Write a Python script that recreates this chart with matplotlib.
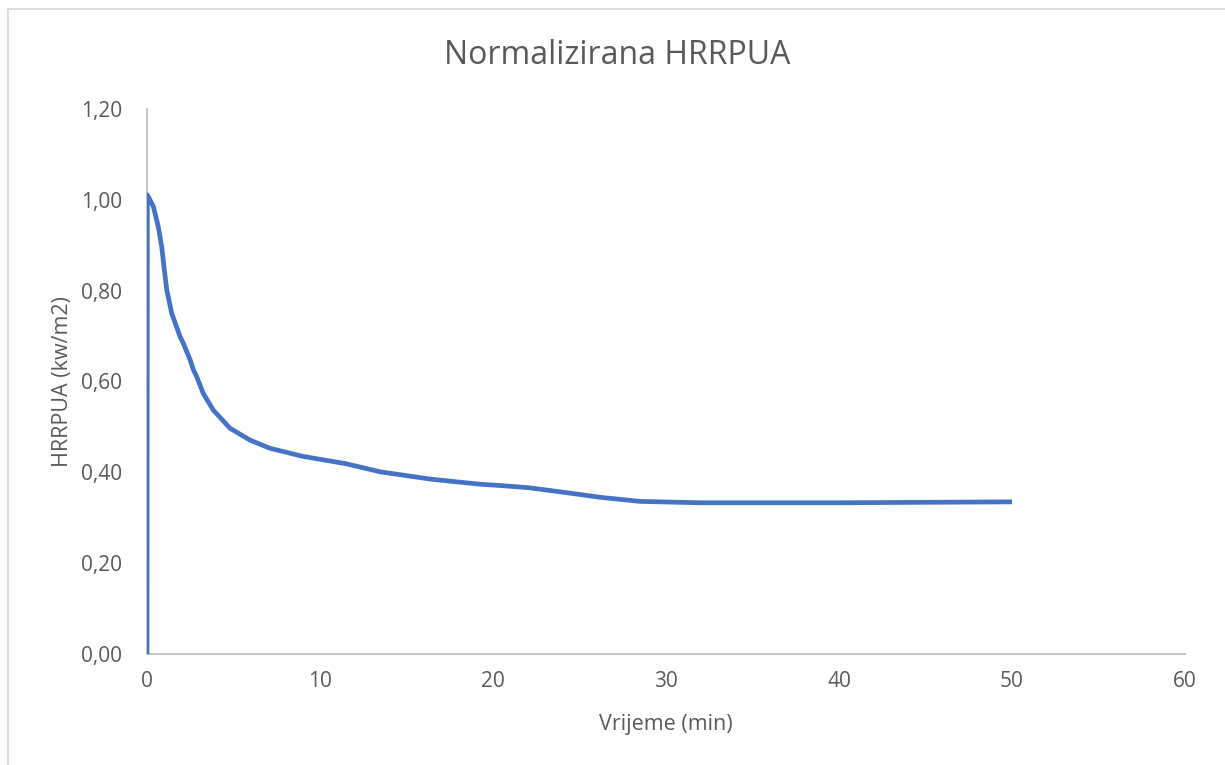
import matplotlib
matplotlib.use("Agg")
import matplotlib.pyplot as plt
from matplotlib.patches import Rectangle

# Normalised heat release rate per unit area over time
time_min = [0, 0.02, 0.37, 0.65, 0.85, 0.98, 1.14, 1.43, 1.91, 2.1, 2.49, 2.68, 2.87,
            3.25, 3.83, 4.8, 5.95, 7.1, 9.03, 11.5, 13.5, 16.4, 19.2, 20.4, 22.1,
            23.9, 26.2, 28.5, 32, 35.4, 40, 45, 50]
hrrpua = [0.0, 1.011, 0.985, 0.941, 0.897, 0.853, 0.802, 0.75, 0.699, 0.684, 0.648,
          0.626, 0.611, 0.574, 0.537, 0.497, 0.471, 0.453, 0.435, 0.419, 0.401, 0.385,
          0.374, 0.371, 0.366, 0.357, 0.345, 0.336, 0.333, 0.333, 0.333, 0.334, 0.335]

x_ticks = [0, 10, 20, 30, 40, 50, 60]
y_ticks = [0.0, 0.2, 0.4, 0.6, 0.8, 1.0, 1.2]

title = "Normalizirana HRRPUA"
x_label = "Vrijeme (min)"
y_label = "HRRPUA (kw/m2)"

plt.rcParams["font.family"] = ["Open Sans", "DejaVu Sans"]
text_color = "#595959"

fig = plt.figure(figsize=(12.25, 7.65), dpi=100)
ax = fig.add_axes([147 / 1225, 111 / 765, 1038 / 1225, 545 / 765])

ax.plot(time_min, hrrpua, color="#4472C4", linewidth=3.4,
        solid_joinstyle="round", solid_capstyle="butt", zorder=3)

ax.set_xlim(0, 60)
ax.set_ylim(0, 1.2)
ax.set_xticks(x_ticks)
ax.set_yticks(y_ticks)
ax.set_yticklabels([f"{v:.2f}".replace(".", ",") for v in y_ticks])
ax.tick_params(length=0, labelsize=15, colors=text_color)
ax.tick_params(axis="y", pad=18)
ax.tick_params(axis="x", pad=12)

for side in ("top", "right"):
    ax.spines[side].set_visible(False)
for side in ("left", "bottom"):
    ax.spines[side].set_color("#BFBFBF")
    ax.spines[side].set_linewidth(1.3)

ax.set_xlabel(x_label, fontsize=15.5, color=text_color, labelpad=16)
ax.set_ylabel(y_label, fontsize=15.5, color=text_color, labelpad=6)

fig.text(617 / 1225, 1 - 55 / 765, title, fontsize=23, color=text_color,
         ha="center", va="center")

# Chart area frame
fig.patches.append(Rectangle((7.5 / 1225, -0.05), 1.2, 1 - 9.5 / 765 + 0.05,
                             transform=fig.transFigure, fill=False,
                             edgecolor="#D9D9D9", linewidth=1.3))

fig.savefig("out.png", dpi=100, facecolor="white")
